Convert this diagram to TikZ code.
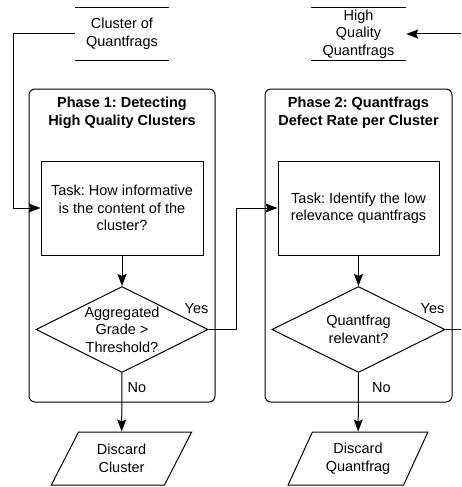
\documentclass[tikz,border=0pt]{standalone}
\usepackage{fontspec}
\setmainfont{Liberation Sans}
\usetikzlibrary{arrows.meta, shapes.geometric, positioning}
\frenchspacing

\begin{document}
\begin{tikzpicture}[
    x=1pt, y=1pt,
    every node/.style={font=\fontsize{14.5}{17.5}\selectfont, align=center, inner sep=0pt},
    myarrow/.style={-{Stealth[length=12pt, width=9pt, inset=2pt]}, line width=1pt},
    myline/.style={line width=1pt},
    phasebox/.style={rectangle, draw, line width=1pt, rounded corners=6pt},
    taskbox/.style={rectangle, draw, line width=1pt, minimum height=94pt},
    decision/.style={diamond, aspect=2, draw, line width=1pt, minimum width=172pt, minimum height=86pt},
    datastore/.style={rectangle, minimum height=52pt},
    discardbox/.style={trapezium, trapezium left angle=61, trapezium right angle=119,
        trapezium stretches, draw, line width=1pt, minimum width=141pt, minimum height=53pt}
]
\useasboundingbox (0,0) rectangle (461,-487);

% Data stores
\node[datastore, minimum width=94pt] (cluster) at (122,-34) {Cluster of\\Quantfrags};
\node[datastore, minimum width=95pt] (hq) at (358.5,-34) {High\\Quality\\Quantfrags};
\foreach \s in {cluster,hq} {
    \draw[myline] (\s.north west) -- (\s.north east);
    \draw[myline] (\s.south west) -- (\s.south east);
}

% Phase frames
\node[phasebox, minimum width=186pt, minimum height=313pt] (phase1) at (122,-245.5) {};
\node[phasebox, minimum width=187pt, minimum height=313pt] (phase2) at (358.5,-245.5) {};
\node[font=\fontsize{14.5}{17.5}\selectfont\bfseries] (title1) at (122,-113) {Phase 1: Detecting\\High Quality Clusters};
\node[font=\fontsize{14.5}{17.5}\selectfont\bfseries] (title2) at (358.5,-113) {Phase 2: Quantfrags\\Defect Rate per Cluster};

% Tasks
\node[taskbox, minimum width=162pt] (task1) at (122,-208) {Task: How informative\\is the content of the\\cluster?};
\node[taskbox, minimum width=161pt] (task2) at (358.5,-208) {Task: Identify the low\\relevance quantfrags};

% Decisions
\node[decision] (dec1) at (122,-329.5) {Aggregated\\Grade >\\Threshold?};
\node[decision, minimum width=173pt] (dec2) at (358.5,-329.5) {Quantfrag\\relevant?};

% Discard outputs
\node[discardbox] (discard1) at (121.5,-458.5) {Discard\\Cluster};
\node[discardbox, minimum width=140pt] (discard2) at (358,-458.5) {Discard\\Quantfrag};

% Connectors
\coordinate (hqin) at (461,-34);
\coordinate (yesout) at (461,-329.5);
\draw[myarrow] (cluster.west) -- ++(-61,0) |- (task1.west);
\draw[myarrow] (task1) -- (dec1);
\draw[myarrow] (task2) -- (dec2);
\draw[myarrow] (dec1.east) -- ++(28,0) |- (task2.west);
\draw[myarrow] (hqin) -- (hq.east);
\draw[myline] (dec2.east) -- (yesout);
\draw[myarrow] (dec1.south) -- (discard1);
\draw[myarrow] (dec2.south) -- (discard2);

% Branch labels
\node (yes1) at ([shift={(-12,21)}]dec1.east) {Yes};
\node (yes2) at ([shift={(-13,21)}]dec2.east) {Yes};
\node (no1) at ([shift={(15,-15)}]dec1.south) {No};
\node (no2) at ([shift={(23,-15)}]dec2.south) {No};

\end{tikzpicture}
\end{document}
